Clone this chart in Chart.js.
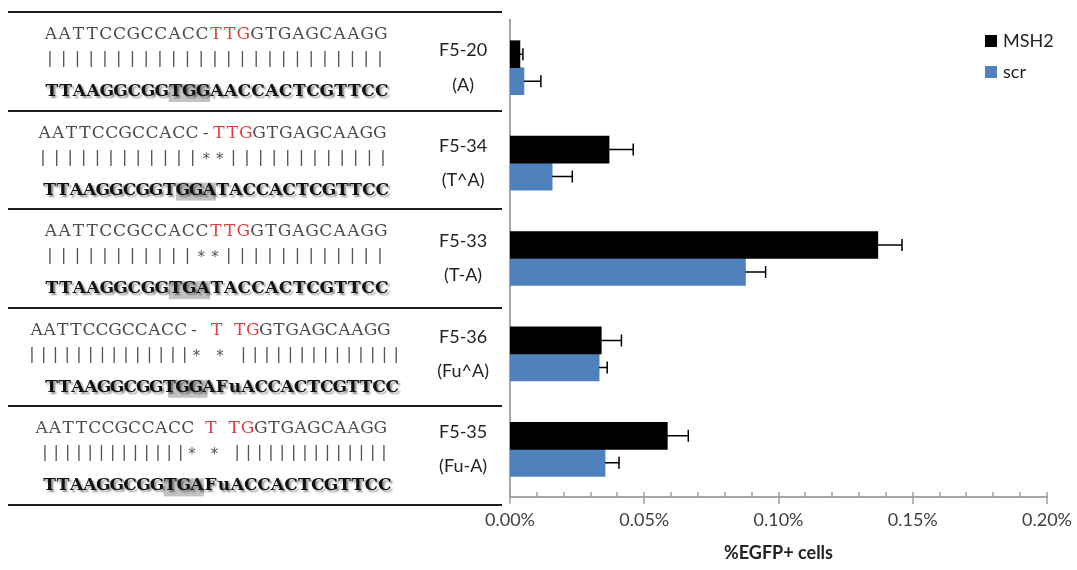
<!DOCTYPE html>
<html>
<head>
<meta charset="utf-8">
<script src="https://cdn.jsdelivr.net/npm/chart.js@4.4.1/dist/chart.umd.min.js"></script>
<style>
  html, body { margin: 0; padding: 0; background: #fff; }
  #wrap { width: 1077px; height: 570px; }
</style>
</head>
<body>
<div id="wrap"><canvas id="chart" width="1077" height="570"></canvas></div>
<script>
// --- data ---
const categories = [['F5-20', '(A)'], ['F5-34', '(T^A)'], ['F5-33', '(T-A)'], ['F5-36', '(Fu^A)'], ['F5-35', '(Fu-A)']];
const msh2 = [0.0037, 0.0369, 0.1370, 0.0340, 0.0586];
const msh2Err = [0.0011, 0.0090, 0.0090, 0.0075, 0.0078];
const scr = [0.0052, 0.0157, 0.0877, 0.0332, 0.0354];
const scrErr = [0.0063, 0.0075, 0.0075, 0.0030, 0.0052];
const xTicks = [0, 0.05, 0.10, 0.15, 0.20];

// sequences shown left of the bars (one row per construct)
const topStrands = ['AATTCCGCCACCTTGGTGAGCAAGG', 'AATTCCGCCACC-TTGGTGAGCAAGG', 'AATTCCGCCACCTTGGTGAGCAAGG', 'AATTCCGCCACC- T TGGTGAGCAAGG', 'AATTCCGCCACC T TGGTGAGCAAGG'];
const redChars = [[12, 13, 14], [13, 14, 15], [12, 13, 14], [14, 16, 17], [13, 15, 16]];
const midLines = ['|||||||||||||||||||||||||', '||||||||||||**||||||||||||', '|||||||||||**||||||||||||', '||||||||||||||* * ||||||||||||||', '|||||||||||||* * ||||||||||||||'];
const bottomStrands = ['TTAAGGCGGTGGAACCACTCGTTCC', 'TTAAGGCGGTGGATACCACTCGTTCC', 'TTAAGGCGGTGATACCACTCGTTCC', 'TTAAGGCGGTGGAFuACCACTCGTTCC', 'TTAAGGCGGTGAFuACCACTCGTTCC'];
const boxChars = [[9, 11], [10, 12], [9, 11], [9.4, 11.4], [9, 11]];

// layout of the sequence rows: [left, pitch] for top / bottom, [firstCenter, pitch] for mid
const topLayout = [[44, 13.75], [38, 13.4], [44, 13.75], [30, 13.1], [35, 13.28]];
const botLayout = [[45, 13.75], [43, 13.3], [45, 13.75], [45, 13.1], [43, 13.4]];
const midLayout = [[50, 13.75], [43, 13.6], [50, 13.75], [32, 11.75], [45, 11.3]];

const BLACK = '#000000';
const BLUE = '#4f81bd';

Chart.defaults.font.family = 'Lato';

// --- left panel with sequences ---
const seqPanel = {
    id: 'seqPanel',
    afterDraw(chart) {
        const ctx = chart.ctx;
        ctx.save();
        const rowH = 98.6;
        const y0 = 12;

        // separators
        ctx.strokeStyle = '#1c1c1c';
        ctx.lineWidth = 2;
        for (let i = 0; i <= topStrands.length; i++) {
            const y = Math.round(y0 + i * rowH);
            ctx.beginPath();
            ctx.moveTo(8, y);
            ctx.lineTo(502, y);
            ctx.stroke();
        }

        topStrands.forEach((s, r) => {
            const base = y0 + r * rowH;
            const topY = base + 21;
            const midY = base + 47;
            const botY = base + 78;

            // gray highlight
            const [bl, bp] = botLayout[r];
            const [b0, b1] = boxChars[r];
            ctx.fillStyle = '#c3c3c3';
            ctx.fillRect(bl + b0 * bp, base + 72, (b1 - b0 + 1) * bp, 18);

            // top strand (spaces are narrower than letters)
            const [tl, tp] = topLayout[r];
            ctx.font = '17px "DejaVu Serif"';
            ctx.textAlign = 'center';
            ctx.textBaseline = 'alphabetic';
            let cx = tl;
            for (let i = 0; i < s.length; i++) {
                if (s[i] === ' ') { cx += tp * 0.75; continue; }
                ctx.fillStyle = redChars[r].includes(i) ? '#e23b3b' : '#4a4a4a';
                ctx.fillText(s[i], cx + tp / 2, topY + 6);
                cx += tp;
            }

            // match line
            const [mc, mp] = midLayout[r];
            const m = midLines[r];
            ctx.fillStyle = '#555';
            for (let i = 0; i < m.length; i++) {
                if (m[i] === ' ') continue;
                if (m[i] === '|') {
                    ctx.font = '16px "DejaVu Sans"';
                    ctx.fillText('|', mc + i * mp, midY + 4);
                } else {
                    ctx.font = '15px "DejaVu Sans"';
                    ctx.fillText('*', mc + i * mp, midY + 6);
                }
            }

            // bottom strand (bold with shadow)
            const b = bottomStrands[r];
            ctx.font = 'bold 17px "DejaVu Serif"';
            ctx.fillStyle = '#111';
            ctx.shadowColor = 'rgba(0,0,0,0.45)';
            ctx.shadowOffsetX = 2;
            ctx.shadowOffsetY = 2;
            ctx.shadowBlur = 2;
            for (let i = 0; i < b.length; i++) {
                ctx.fillText(b[i], bl + (i + 0.5) * bp, botY + 6);
            }
            ctx.shadowColor = 'transparent';
            ctx.shadowBlur = 0;
            ctx.shadowOffsetX = 0;
            ctx.shadowOffsetY = 0;
        });
        ctx.restore();
    }
};

// --- error bars (positive side only) ---
const errorBars = {
    id: 'errorBars',
    afterDatasetsDraw(chart) {
        const ctx = chart.ctx;
        const xs = chart.scales.x;
        const errs = [msh2Err, scrErr];
        ctx.save();
        ctx.strokeStyle = '#000';
        ctx.lineWidth = 1.5;
        chart.data.datasets.forEach((ds, di) => {
            const meta = chart.getDatasetMeta(di);
            meta.data.forEach((bar, i) => {
                const x1 = bar.x;
                const x2 = xs.getPixelForValue(ds.data[i] + errs[di][i]);
                const y = bar.y;
                ctx.beginPath();
                ctx.moveTo(x1, y);
                ctx.lineTo(x2, y);
                ctx.moveTo(x2, y - 6);
                ctx.lineTo(x2, y + 6);
                ctx.stroke();
            });
        });
        ctx.restore();
    }
};

// --- x ticks: minor inside, major crossing ---
const axisTicks = {
    id: 'axisTicks',
    afterDraw(chart) {
        const ctx = chart.ctx;
        const xs = chart.scales.x;
        const bottom = chart.chartArea.bottom;
        ctx.save();
        ctx.strokeStyle = '#9e9e9e';
        ctx.lineWidth = 1.5;
        xs.ticks.forEach(t => {
            const px = Math.round(xs.getPixelForValue(t.value));
            const major = Math.round(t.value * 100) % 5 === 0;
            ctx.beginPath();
            ctx.moveTo(px, bottom - 5);
            ctx.lineTo(px, major ? bottom + 7 : bottom);
            ctx.stroke();
        });
        ctx.restore();
    }
};

// --- legend in the upper right ---
const cornerLegend = {
    id: 'cornerLegend',
    afterDraw(chart) {
        const ctx = chart.ctx;
        ctx.save();
        ctx.font = '18px Lato';
        ctx.textAlign = 'left';
        ctx.textBaseline = 'middle';
        chart.data.datasets.forEach((ds, i) => {
            const y = 41 + i * 31;
            ctx.fillStyle = ds.backgroundColor;
            ctx.fillRect(985, y - 6, 12, 12);
            ctx.fillStyle = '#222';
            ctx.fillText(ds.label, 1003, y);
        });
        ctx.restore();
    }
};

new Chart(document.getElementById('chart'), {
    type: 'bar',
    data: {
        labels: categories,
        datasets: [
            { label: 'MSH2', data: msh2, backgroundColor: BLACK, barThickness: 27 },
            { label: 'scr', data: scr, backgroundColor: BLUE, barThickness: 27 }
        ]
    },
    options: {
        indexAxis: 'y',
        responsive: false,
        animation: false,
        devicePixelRatio: 1,
        layout: { padding: { left: 410, right: 30, top: 20, bottom: 0 } },
        plugins: {
            legend: { display: false },
            tooltip: { enabled: false }
        },
        scales: {
            x: {
                min: 0,
                max: 0.2,
                grid: { display: false, drawTicks: false },
                border: { display: true, color: '#a6a6a6', width: 2 },
                ticks: {
                    stepSize: 0.01,
                    autoSkip: false,
                    maxRotation: 0,
                    padding: 12,
                    color: '#404040',
                    font: { size: 18 },
                    callback: v => {
                        const k = Math.round(v * 100);
                        return xTicks.some(t => Math.round(t * 100) === k) ? v.toFixed(2) + '%' : '';
                    }
                },
                title: {
                    display: true,
                    text: '%EGFP+ cells',
                    color: '#222',
                    font: { size: 18, weight: 'bold' },
                    padding: { top: 0, bottom: 6 }
                },
                afterFit: s => { s.height = 73; s.paddingLeft = 0; s.paddingRight = 0; }
            },
            y: {
                grid: { display: false, drawTicks: false },
                border: { display: true, color: '#a6a6a6', width: 2 },
                ticks: {
                    crossAlign: 'center',
                    padding: 21,
                    color: '#222',
                    font: { size: 18, lineHeight: 1.9 }
                },
                afterFit: s => { s.width = 100; s.paddingTop = 0; s.paddingBottom = 0; }
            }
        }
    },
    plugins: [seqPanel, errorBars, axisTicks, cornerLegend]
});
</script>
</body>
</html>
